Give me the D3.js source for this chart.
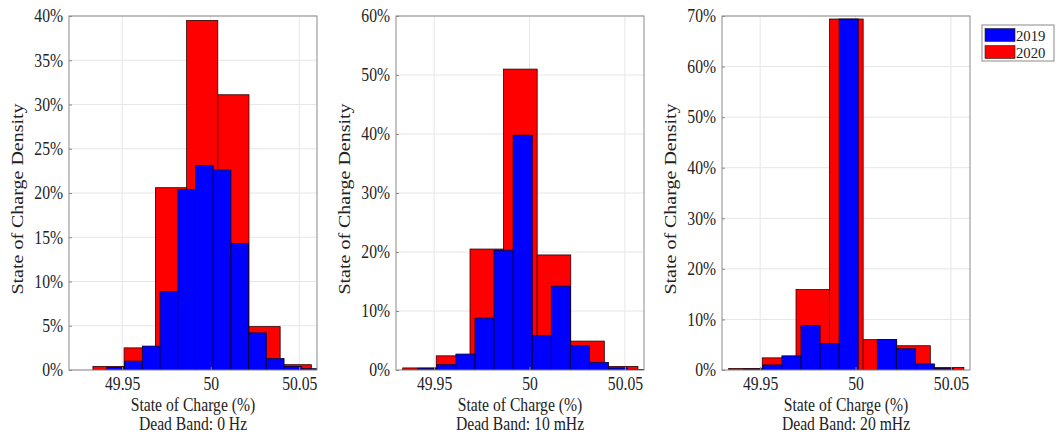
<!DOCTYPE html>
<html>
<head>
<meta charset="utf-8">
<script src="https://cdn.jsdelivr.net/npm/d3@7"></script>
<style>
  html, body { margin: 0; padding: 0; background: #fff; }
  svg { display: block; }
  text { font-family: "Liberation Serif", "Times New Roman", serif; fill: #222; }
</style>
</head>
<body>
<svg id="chart" width="1059" height="435"></svg>
<script>
// ---------------- data ----------------
const seriesNames = ["2019", "2020"];
const seriesColors = ["#0000ff", "#ff0000"];
const panelTitles = ["Dead Band: 0 Hz", "Dead Band: 10 mHz", "Dead Band: 20 mHz"];
const xLabel = "State of Charge (%)";
const yLabel = "State of Charge Density";
const xTicks = [49.95, 50, 50.05];
const xTickLabels = ["49.95", "50", "50.05"];

// bin edges (2019 histogram uses narrower bins than 2020)
const blueEdges = [49.9414, 49.9514, 49.9614, 49.9714, 49.9814, 49.9914, 50.0014, 50.0114, 50.0214, 50.0314, 50.0414, 50.0514, 50.0614];
const redEdges = [49.9335, 49.9511, 49.9688, 49.9864, 50.0040, 50.0216, 50.0392, 50.0568];

// densities in percent
const blue0Hz  = [0.3, 1.0, 2.7, 8.85, 20.4, 23.1, 22.6, 14.3, 4.2, 1.3, 0.4, 0.15];
const red0Hz   = [0.4, 2.5, 20.6, 39.5, 31.1, 4.9, 0.6];
const blue10mHz = [0.3, 0.9, 2.7, 8.8, 20.3, 39.8, 5.8, 14.2, 4.1, 1.3, 0.35, 0.1];
const red10mHz  = [0.35, 2.4, 20.5, 51.0, 19.5, 4.9, 0.6];
const blue20mHz = [0.2, 1.0, 2.8, 8.8, 5.2, 69.4, 0, 6.0, 4.2, 1.2, 0.3, 0];
const red20mHz  = [0.3, 2.4, 15.9, 69.4, 6.0, 4.8, 0.5];

const yMaxes = [40, 60, 70];
const yTickSteps = [5, 10, 10];
const xDomains = [[49.92, 50.06], [49.93, 50.06], [49.93, 50.06]];

const blueSets = [blue0Hz, blue10mHz, blue20mHz];
const redSets = [red0Hz, red10mHz, red20mHz];

// ---------------- layout ----------------
const panelLefts = [69, 396, 722];
const panelWidth = 248;
const plotTop = 16, plotBottom = 370;
const squeeze = 0.87;   // the source figure's lettering is horizontally condensed

const svg = d3.select("#chart");

function bins(edges, vals) {
  return vals.map((v, i) => ({ x0: edges[i], x1: edges[i + 1], v }));
}
function condenseTicks(sel) {
  sel.selectAll("text").each(function () {
    const t = d3.select(this);
    const x0 = +t.attr("x") || 0;
    t.attr("x", x0 / squeeze).attr("transform", `scale(${squeeze},1)`);
  });
}

panelTitles.forEach((title, p) => {
  const x = d3.scaleLinear().domain(xDomains[p]).range([panelLefts[p], panelLefts[p] + panelWidth]);
  const y = d3.scaleLinear().domain([0, yMaxes[p]]).range([plotBottom, plotTop]);
  const yTicks = d3.range(0, yMaxes[p] + 0.001, yTickSteps[p]);

  const g = svg.append("g");
  const clipId = "clip" + p;
  svg.append("clipPath").attr("id", clipId).append("rect")
    .attr("x", panelLefts[p]).attr("y", plotTop).attr("width", panelWidth).attr("height", plotBottom - plotTop);

  // grid
  g.append("g").selectAll("line").data(yTicks).join("line")
    .attr("x1", panelLefts[p]).attr("x2", panelLefts[p] + panelWidth)
    .attr("y1", d => y(d)).attr("y2", d => y(d))
    .attr("stroke", "#e6e6e6").attr("stroke-width", 1);
  g.append("g").selectAll("line").data(xTicks).join("line")
    .attr("x1", d => x(d)).attr("x2", d => x(d))
    .attr("y1", plotTop).attr("y2", plotBottom)
    .attr("stroke", "#e6e6e6").attr("stroke-width", 1);

  const bars = g.append("g").attr("clip-path", `url(#${clipId})`);
  // 2020 (red) behind, 2019 (blue) in front
  bars.append("g").selectAll("rect").data(bins(redEdges, redSets[p]).filter(d => d.v > 0)).join("rect")
    .attr("x", d => x(d.x0)).attr("width", d => x(d.x1) - x(d.x0))
    .attr("y", d => y(d.v)).attr("height", d => y(0) - y(d.v))
    .attr("fill", seriesColors[1]).attr("stroke", "#2a0000").attr("stroke-width", 0.8);
  bars.append("g").selectAll("rect").data(bins(blueEdges, blueSets[p]).filter(d => d.v > 0)).join("rect")
    .attr("x", d => x(d.x0)).attr("width", d => x(d.x1) - x(d.x0))
    .attr("y", d => y(d.v)).attr("height", d => y(0) - y(d.v))
    .attr("fill", seriesColors[0]).attr("stroke", "#00002a").attr("stroke-width", 0.8);

  // box
  g.append("rect").attr("x", panelLefts[p]).attr("y", plotTop)
    .attr("width", panelWidth).attr("height", plotBottom - plotTop)
    .attr("fill", "none").attr("stroke", "#8a8a8a").attr("stroke-width", 1);

  // axes (inward ticks, MATLAB style)
  const yAxis = d3.axisLeft(y).tickValues(yTicks).tickSize(-3).tickPadding(6)
    .tickFormat(d => d + "%");
  const ya = g.append("g").attr("transform", `translate(${panelLefts[p]},0)`).call(yAxis);
  ya.select(".domain").remove();
  ya.selectAll(".tick line").attr("stroke", "#8a8a8a");
  ya.selectAll("text").attr("font-size", 18).attr("font-family", "Liberation Serif").attr("fill", "#222");
  condenseTicks(ya);

  const xAxis = d3.axisBottom(x).tickValues(xTicks).tickSize(-3).tickPadding(7)
    .tickFormat((d, i) => xTickLabels[i]);
  const xa = g.append("g").attr("transform", `translate(0,${plotBottom})`).call(xAxis);
  xa.select(".domain").remove();
  xa.selectAll(".tick line").attr("stroke", "#8a8a8a");
  xa.selectAll("text").attr("font-size", 18).attr("font-family", "Liberation Serif").attr("fill", "#222");
  condenseTicks(xa);

  // labels
  const cx = panelLefts[p] + panelWidth / 2;
  g.append("text").attr("transform", `translate(${cx},410.5) scale(${squeeze},1)`)
    .attr("text-anchor", "middle").attr("font-size", 18).text(xLabel);
  g.append("text").attr("transform", `translate(${cx},430) scale(${squeeze},1)`)
    .attr("text-anchor", "middle").attr("font-size", 18).text(title);
  g.append("text")
    .attr("transform", `translate(${panelLefts[p] - 46},${(plotTop + plotBottom) / 2 + 6}) scale(${squeeze},1) rotate(-90)`)
    .attr("text-anchor", "middle").attr("font-size", 20).text(yLabel);
});

// legend
const leg = svg.append("g");
leg.append("rect").attr("x", 982).attr("y", 25).attr("width", 72).attr("height", 36)
  .attr("fill", "#fff").attr("stroke", "#8a8a8a").attr("stroke-width", 1);
seriesNames.forEach((name, i) => {
  leg.append("rect").attr("x", 985).attr("y", 28.5 + i * 17).attr("width", 30).attr("height", 13)
    .attr("fill", seriesColors[i]).attr("stroke", "#222").attr("stroke-width", 0.6);
  leg.append("text").attr("transform", `translate(1016,${40.5 + i * 17}) scale(0.95,1)`)
    .attr("font-size", 15.5).text(name);
});
</script>
</body>
</html>
